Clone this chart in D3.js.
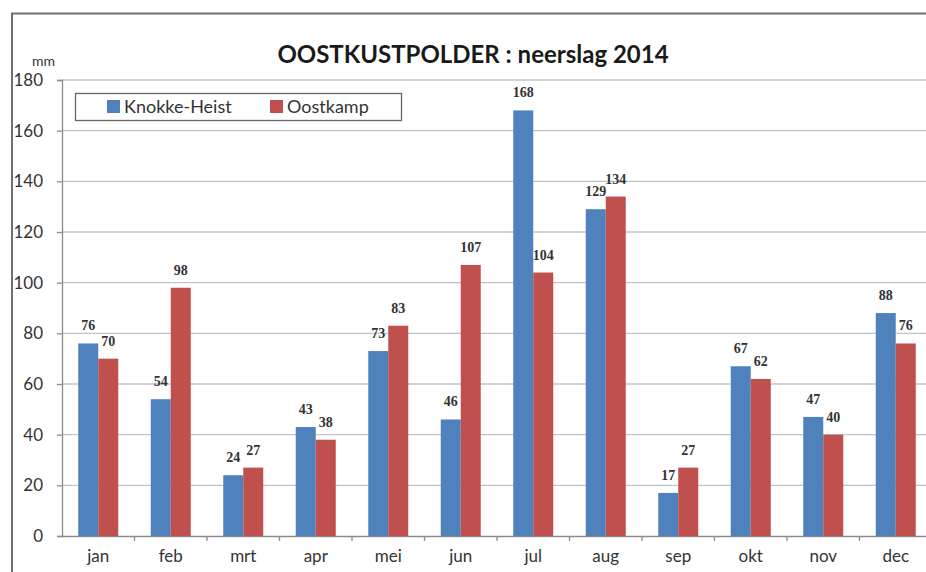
<!DOCTYPE html>
<html>
<head>
<meta charset="utf-8">
<script src="https://cdn.jsdelivr.net/npm/d3@7"></script>
<style>
  body { margin: 0; background: #fff; }
  svg { display: block; }
  text { font-family: Lato, "Open Sans", sans-serif; }
  .lbl { font-family: "Liberation Serif", serif; font-weight: bold; font-size: 14px; fill: #333; }
</style>
</head>
<body>
<div id="container"><svg></svg></div>
<script>
let width = 926;
let height = 572;
let padding = {'left': 62, 'top': 80, 'bottom': 36};

let months = ['jan','feb','mrt','apr','mei','jun','jul','aug','sep','okt','nov','dec'];
let series = ['Knokke-Heist','Oostkamp'];
let knokke = [76, 54, 24, 43, 73, 46, 168, 129, 17, 67, 47, 88];
let oostkamp = [70, 98, 27, 38, 83, 107, 104, 134, 27, 62, 40, 76];
let yTicks = [0, 20, 40, 60, 80, 100, 120, 140, 160, 180];
let colors = ['#4f81bd', '#c0504d'];

let svg, x0, x1, yScale, colorScale;

function draw() {
    let rows = months.map((m, i) => ({month: m, values: [knokke[i], oostkamp[i]]}));

    x0 = d3.scaleBand()
        .domain(months)
        .range([padding.left, padding.left + 12 * 72.5]);
    x1 = d3.scaleBand()
        .domain(series)
        .range([0, x0.bandwidth()])
        .paddingOuter(0.8125);
    yScale = d3.scaleLinear()
        .domain([0, 180])
        .range([height - padding.bottom, padding.top]);
    colorScale = d3.scaleOrdinal().domain(series).range(colors);

    // frame
    svg.append('rect')
        .attr('x', 12).attr('y', 13.5)
        .attr('width', 960).attr('height', 620)
        .attr('fill', 'none')
        .attr('stroke', '#6f6f6f')
        .attr('stroke-width', 2);

    // gridlines
    svg.append('g')
        .selectAll('line')
        .data(yTicks.filter(d => d > 0))
        .join('line')
        .attr('x1', padding.left).attr('x2', width)
        .attr('y1', d => yScale(d)).attr('y2', d => yScale(d))
        .attr('stroke', '#c4c4c4')
        .attr('stroke-width', 1.3);

    // y axis
    let yAxis = svg.append('g')
        .attr('transform', `translate(${padding.left},0)`)
        .call(d3.axisLeft(yScale).tickValues(yTicks).tickSize(5).tickPadding(5));
    yAxis.selectAll('path, line').attr('stroke', '#8c8c8c').attr('stroke-width', 1.3);
    yAxis.selectAll('text')
        .attr('font-size', 17)
        .attr('fill', '#333')
        .attr('x', -19)
        .attr('text-anchor', 'end')
        .style('font-family', 'Lato, sans-serif');

    // x axis
    let xAxis = svg.append('g')
        .attr('transform', `translate(0,${yScale(0)})`)
        .call(d3.axisBottom(x0).tickSize(0).tickPadding(14));
    xAxis.select('.domain').attr('stroke', '#8c8c8c').attr('stroke-width', 1.3);
    xAxis.selectAll('text')
        .attr('font-size', 17)
        .attr('fill', '#333');
    xAxis.append('g')
        .selectAll('line')
        .data(months.slice(1))
        .join('line')
        .attr('x1', d => x0(d)).attr('x2', d => x0(d))
        .attr('y1', 0).attr('y2', 5)
        .attr('stroke', '#8c8c8c')
        .attr('stroke-width', 1.3);

    // bars
    let group = svg.append('g')
        .selectAll('g')
        .data(rows)
        .join('g')
        .attr('transform', d => `translate(${x0(d.month)},0)`);

    group.selectAll('rect')
        .data(d => d.values.map((v, i) => ({key: series[i], value: v})))
        .join('rect')
        .attr('x', d => x1(d.key))
        .attr('y', d => yScale(d.value))
        .attr('width', x1.bandwidth())
        .attr('height', d => yScale(0) - yScale(d.value))
        .attr('fill', d => colorScale(d.key));

    group.selectAll('text')
        .data(d => d.values.map((v, i) => ({key: series[i], value: v})))
        .join('text')
        .attr('class', 'lbl')
        .attr('x', d => x1(d.key) + x1.bandwidth() / 2)
        .attr('y', d => yScale(d.value) - 13)
        .attr('text-anchor', 'middle')
        .text(d => d.value);

    // title
    svg.append('text')
        .attr('x', 473)
        .attr('y', 63)
        .attr('text-anchor', 'middle')
        .attr('font-size', 24)
        .attr('font-weight', 'bold')
        .attr('fill', '#1a1a1a')
        .text('OOSTKUSTPOLDER : neerslag 2014');

    // unit
    svg.append('text')
        .attr('x', 32).attr('y', 66)
        .attr('font-size', 14)
        .attr('fill', '#333')
        .text('mm');

    // legend
    let legend = svg.append('g');
    legend.append('rect')
        .attr('x', 75.5).attr('y', 93.5)
        .attr('width', 326).attr('height', 27)
        .attr('fill', '#fff')
        .attr('stroke', '#666')
        .attr('stroke-width', 1.3);
    let items = legend.selectAll('g')
        .data(series)
        .join('g')
        .attr('transform', (d, i) => `translate(${[107, 270][i]},100)`);
    items.append('rect')
        .attr('width', 13).attr('height', 13)
        .attr('fill', d => colorScale(d));
    items.append('text')
        .attr('x', 17).attr('y', 13)
        .attr('font-size', 18)
        .attr('fill', '#333')
        .text(d => d);
}

function main() {
    svg = d3.select('#container')
        .select('svg')
        .attr('width', width)
        .attr('height', height);
    draw();
}

main()
</script>
</body>
</html>
